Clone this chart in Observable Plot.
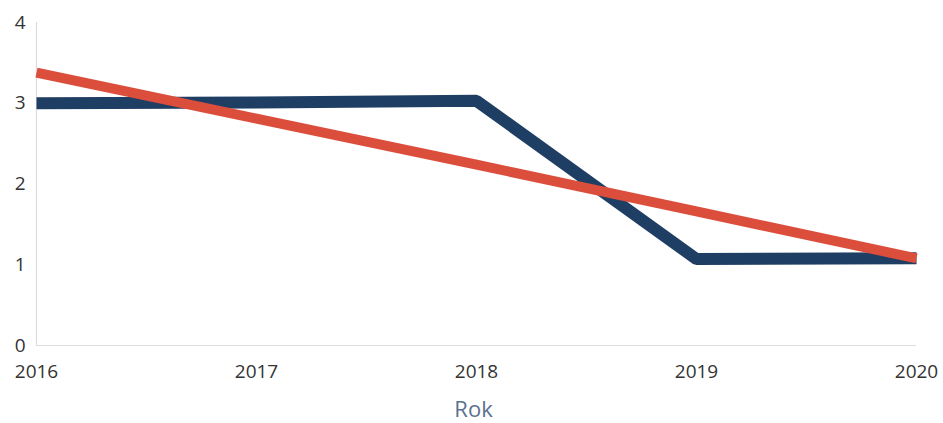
<!DOCTYPE html>
<html>
<head>
<meta charset="utf-8">
<script src="https://cdn.jsdelivr.net/npm/d3@7"></script>
<script src="https://cdn.jsdelivr.net/npm/@observablehq/plot@0.6"></script>
<style>
  html, body { margin: 0; padding: 0; background: #fff; }
  #chart { width: 943px; height: 423px; }
  svg { font-family: "Open Sans", sans-serif; }
</style>
</head>
<body>
<div id="chart"></div>
<script>
const years = [2016, 2017, 2018, 2019, 2020];
const actual = [3.0, 3.01, 3.03, 1.07, 1.08];
const trend = [3.38, 2.81, 2.24, 1.66, 1.08];
const yTicks = [0, 1, 2, 3, 4];
const xLabel = "Rok";

const actualData = years.map((y, i) => ({year: y, value: actual[i]}));
const trendData = years.map((y, i) => ({year: y, value: trend[i]}));

const chart = Plot.plot({
  width: 943,
  height: 423,
  marginLeft: 36,
  marginRight: 27,
  marginTop: 22,
  marginBottom: 78,
  style: {fontFamily: "Open Sans, sans-serif", fontSize: "19px", color: "#333", background: "#fff"},
  x: {domain: [2016, 2020], ticks: years, tickFormat: "d", tickSize: 0, tickPadding: 19, label: null},
  y: {domain: [0, 4], ticks: yTicks, tickFormat: "d", tickSize: 0, tickPadding: 11, label: null},
  marks: [
    Plot.ruleX([2016], {stroke: "#dcdcdc", strokeWidth: 1.2}),
    Plot.ruleY([0], {stroke: "#dcdcdc", strokeWidth: 1.2}),
    Plot.line(actualData, {x: "year", y: "value", stroke: "#1f3e63", strokeWidth: 12, strokeLinecap: "butt", strokeLinejoin: "miter"}),
    Plot.line(trendData, {x: "year", y: "value", stroke: "#dc4e3c", strokeWidth: 10, strokeLinecap: "butt", strokeLinejoin: "miter"}),
    Plot.text([xLabel], {frameAnchor: "bottom", dx: -3, dy: 64, fill: "#5b7090", fontSize: 22, lineAnchor: "middle"})
  ]
});
document.getElementById("chart").appendChild(chart);
</script>
</body>
</html>
